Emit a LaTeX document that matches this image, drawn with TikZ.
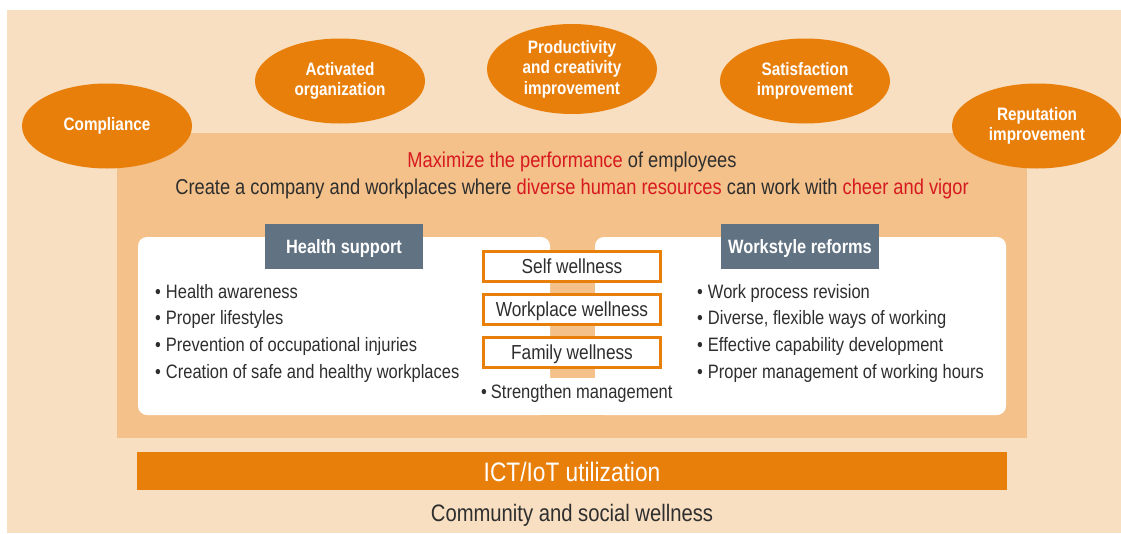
\documentclass[tikz,border=0pt]{standalone}
\usepackage{fontspec}
\setmainfont{Liberation Sans}[FakeStretch=0.85]
\usepackage{xcolor}
\usepackage{tikz}
\usetikzlibrary{shapes.geometric,positioning}

\definecolor{wlpale}{HTML}{F8DFC1}
\definecolor{wlmid}{HTML}{F3C189}
\definecolor{wlorange}{HTML}{E97F0B}
\definecolor{wlgray}{HTML}{617282}
\definecolor{wlred}{HTML}{D71920}
\definecolor{wltext}{HTML}{2E2E2E}

\begin{document}
\begin{tikzpicture}[x=1pt,y=-1pt]

\tikzset{goal/.style={ellipse, fill=wlorange, text=white, inner sep=0pt,
   minimum width=170pt, minimum height=85pt, align=center,
   font=\fontsize{18}{20.5}\selectfont\bfseries},
headbox/.style={fill=wlgray, text=white, minimum width=158pt, minimum height=45pt,
   inner sep=0pt, text height=14pt, text depth=0pt,
   font=\fontsize{19.3}{21}\selectfont\bfseries},
wellbox/.style={draw=wlorange, line width=3pt, fill=white, inner sep=0pt,
   minimum width=177pt, minimum height=30pt, text=wltext,
   text height=14.5pt, text depth=0pt, font=\fontsize{20.3}{22}\selectfont},
item/.style={anchor=west, inner sep=0pt, text=wltext, text height=14pt, text depth=0pt,
   font=\fontsize{19.4}{21}\selectfont}}

\useasboundingbox (0,0) rectangle (1121,533);

% background layers
\fill[wlpale] (7,10) rectangle (1121,533);
\fill[wlmid] (117,133) rectangle (1027,438);

% white panels, joined under the middle
\fill[white, rounded corners=9pt] (138,237) rectangle (550,415);
\fill[white, rounded corners=9pt] (595,237) rectangle (1006,415);
\fill[white] (540,378) rectangle (605,415);

% the goals
\node[goal] (compl) at (107,126) {Compliance};
\node[goal] (activ) at (340,81) {Activated\\organization};
\node[goal, minimum height=90pt] (produ) at (572,69) {Productivity\\and creativity\\improvement};
\node[goal] (satis) at (805,81) {Satisfaction\\improvement};
\node[goal] (reput) at (1037,126) {Reputation\\improvement};

% aim
\node[text=wltext, font=\fontsize{21.5}{23}\selectfont] (aim1) at (572,162)
   {\textcolor{wlred}{Maximize the performance} of employees};
\node[text=wltext, font=\fontsize{21.5}{23}\selectfont] (aim2) at (572,189)
   {Create a company and workplaces where \textcolor{wlred}{diverse human resources} can work with \textcolor{wlred}{cheer and vigor}};

% the two pillars
\node[headbox] (health) at (344,246.5) {Health support};
\node[headbox] (works) at (800,246.5) {Workstyle reforms};

\foreach \txt [count=\i] in {Health awareness, Proper lifestyles,
   Prevention of occupational injuries, Creation of safe and healthy workplaces}
  \node[item] (hs\i) at (155,264.3+26.7*\i) {\textbullet\hspace{5pt}\txt};

\foreach \txt [count=\i] in {Work process revision, {Diverse, flexible ways of working},
   Effective capability development, Proper management of working hours}
  \node[item] (wr\i) at (697,264.3+26.7*\i) {\textbullet\hspace{5pt}\txt};

% wellness in the middle
\node[wellbox] (self) at (572,266) {Self wellness};
\node[wellbox] (place) at (572,309) {Workplace wellness};
\node[wellbox] (family) at (572,352) {Family wellness};
\node[item] (strong) at (481,391) {\textbullet\hspace{4pt}Strengthen management};

% base
\fill[wlorange] (137,452) rectangle (1007,490);
\node[text=white, font=\fontsize{26.7}{28}\selectfont] (ict) at (572,472) {ICT/IoT utilization};
\node[text=wltext, font=\fontsize{23.8}{25}\selectfont] (comm) at (572,515) {Community and social wellness};

\end{tikzpicture}
\end{document}
